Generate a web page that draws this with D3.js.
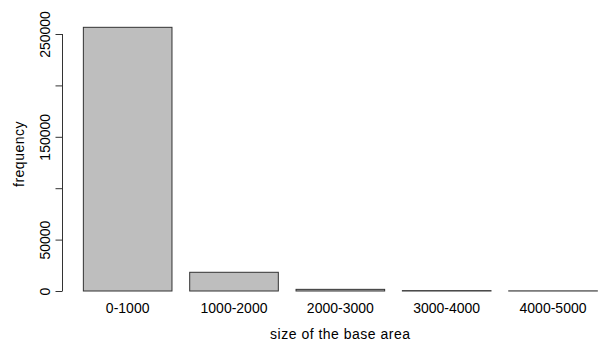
<!DOCTYPE html>
<html>
<head>
<meta charset="utf-8">
<script src="https://cdn.jsdelivr.net/npm/d3@7"></script>
<style>
  html, body { margin: 0; padding: 0; background: #fff; }
  svg { display: block; font-family: "Liberation Sans", Arial, sans-serif; }
</style>
</head>
<body>
<svg id="chart" width="601" height="345"></svg>
<script>
// Counts of buildings per base-area class
const categories = ["0-1000", "1000-2000", "2000-3000", "3000-4000", "4000-5000"];
const frequencies = [256500, 18200, 1600, 350, 120];
const yTicks = [0, 50000, 100000, 150000, 200000, 250000];
const yTickLabels = ["0", "50000", "", "150000", "", "250000"];

const svg = d3.select("#chart");

// Bars sit at 0.2 + i*1.2 with width 1, like a classic barplot layout
const barSpace = 0.2, barWidth = 1;
const xMin = barSpace, xMax = categories.length * (barWidth + barSpace);
const pad = (xMax - xMin) * 0.04;
const x = d3.scaleLinear().domain([xMin - pad, xMax + pad]).range([62.8, 617.9]);
const y = d3.scaleLinear().domain([0, 250000]).range([291, 34]);

const barLeft = (d, i) => barSpace + i * (barWidth + barSpace);

// Bars
svg.append("g")
  .selectAll("rect")
  .data(frequencies)
  .join("rect")
  .attr("x", (d, i) => x(barLeft(d, i)))
  .attr("width", (d, i) => x(barLeft(d, i) + barWidth) - x(barLeft(d, i)))
  .attr("y", d => y(d))
  .attr("height", d => y(0) - y(d))
  .attr("fill", "#bebebe")
  .attr("stroke", "#333")
  .attr("stroke-width", 1);

// Y axis with upright-rotated labels
const yAxis = d3.axisLeft(y)
  .tickValues(yTicks)
  .tickSize(7)
  .tickFormat((d, i) => yTickLabels[i]);

const gy = svg.append("g")
  .attr("transform", "translate(62.5,0)")
  .call(yAxis);
gy.select(".domain").attr("stroke", "#333").attr("d", `M-0,${y(0)}V${y(250000)}`);
gy.selectAll(".tick line").attr("stroke", "#333");
gy.selectAll(".tick text")
  .attr("transform", "rotate(-90)")
  .attr("x", 0)
  .attr("y", -12.5)
  .attr("dy", 0)
  .attr("text-anchor", "middle")
  .attr("fill", "#000")
  .style("font-size", "14px");

// Category labels under the bars
svg.append("g")
  .selectAll("text")
  .data(categories)
  .join("text")
  .attr("x", (d, i) => x(barLeft(d, i) + barWidth / 2))
  .attr("y", 313)
  .attr("text-anchor", "middle")
  .style("font-size", "14px")
  .attr("fill", "#000")
  .text(d => d);

// Axis titles
svg.append("text")
  .attr("x", (x.range()[0] + x.range()[1]) / 2)
  .attr("y", 338.5)
  .attr("text-anchor", "middle")
  .style("font-size", "14px")
  .style("letter-spacing", "0.5px")
  .text("size of the base area");

svg.append("text")
  .attr("transform", "translate(24,154) rotate(-90)")
  .attr("text-anchor", "middle")
  .style("font-size", "14px")
  .style("letter-spacing", "0.5px")
  .text("frequency");
</script>
</body>
</html>
